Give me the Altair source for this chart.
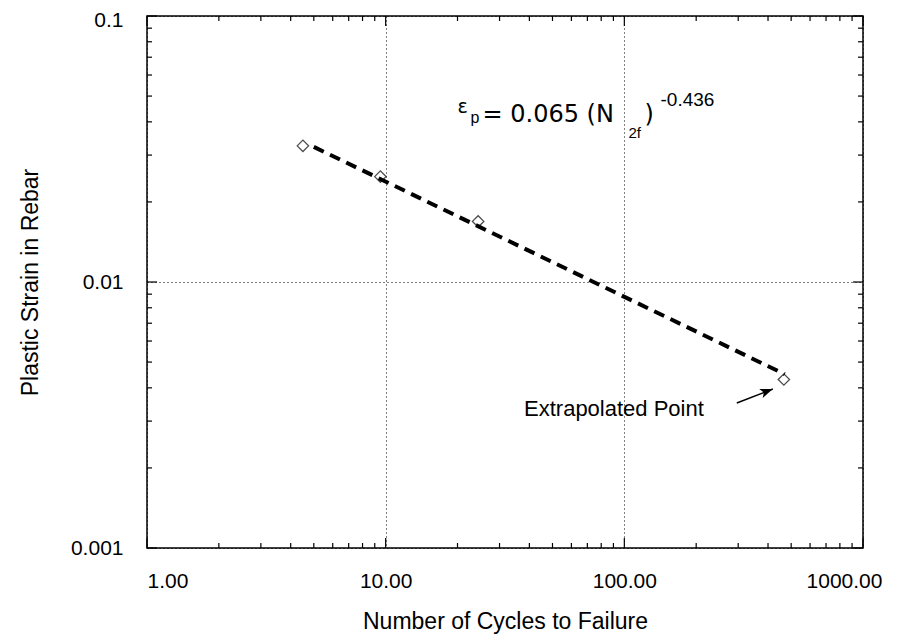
import altair as alt
import pandas as pd

# ---- data ----
cycles = [4.5, 9.5, 24.4, 466]
strain = [0.0325, 0.0249, 0.0169, 0.0043]
fit_cycles = [5.0, 470]
fit_strain = [0.0322, 0.0045]

x_major = [1, 10, 100, 1000]
x_minor = [2, 3, 4, 5, 6, 7, 8, 9, 20, 30, 40, 50, 60, 70, 80, 90,
           200, 300, 400, 500, 600, 700, 800, 900]
y_major = [0.001, 0.01, 0.1]
y_minor = [0.002, 0.003, 0.004, 0.005, 0.006, 0.007, 0.008, 0.009,
           0.02, 0.03, 0.04, 0.05, 0.06, 0.07, 0.08, 0.09]

eq_x = [20]
eq_y = [0.044]
eq_parts = ["ε", "p", "= 0.065 (N", "2f", ")", "-0.436"]

note_x = [38]
note_y = [0.00333]
note_text = ["Extrapolated Point"]

arrow_x = [296]
arrow_y = [0.00351]
arrow_x2 = [419]
arrow_y2 = [0.00396]

# ---- layout ----
W, H = 716, 532
FONT = "Liberation Sans"
EQFONT = "DejaVu Sans"

xs = alt.Scale(type="log", domain=[1, 1000], nice=False)
ys = alt.Scale(type="log", domain=[0.001, 0.1], nice=False)

x_axis = alt.Axis(values=x_major, format=".2f", title="Number of Cycles to Failure",
                  grid=True, gridDash=[1, 3], gridColor="black", gridOpacity=1, gridWidth=1,
                  ticks=False, domain=False, labelFlush=False, labelOverlap=False,
                  labelAlign={"expr": "datum.value == 1 ? 'left' : 'center'"},
                  labelOffset={"expr": "datum.value == 1000 ? -19 : 0"},
                  labelFont=FONT, labelFontSize=21, labelColor="black", labelPadding=22,
                  titleFont=FONT, titleFontSize=23, titleFontWeight="normal",
                  titleColor="black", titlePadding=19)
y_axis = alt.Axis(values=y_major, format="~g", title="Plastic Strain in Rebar",
                  grid=True, gridDash=[1, 3], gridColor="black", gridOpacity=1, gridWidth=1,
                  ticks=False, domain=False, labelFlush=False, labelOverlap=False,
                  labelOffset={"expr": "datum.value == 0.1 ? 4 : 0"},
                  labelFont=FONT, labelFontSize=21, labelColor="black", labelPadding=24,
                  titleFont=FONT, titleFontSize=23, titleFontWeight="normal",
                  titleColor="black", titlePadding=28)


def X(field):
    return alt.X(field, type="quantitative", scale=xs, axis=x_axis)


def Y(field):
    return alt.Y(field, type="quantitative", scale=ys, axis=y_axis)


pts_df = pd.DataFrame({"N": cycles, "e": strain})
fit_df = pd.DataFrame({"N": fit_cycles, "e": fit_strain})

points = alt.Chart(pts_df).mark_point(shape="diamond", filled=False, size=130,
                                      color="black", strokeWidth=1.3).encode(
    x=X("N"), y=Y("e"))

fit = alt.Chart(fit_df).mark_line(color="black", strokeWidth=4,
                                  strokeDash=[11, 7]).encode(x=X("N"), y=Y("e"))


def xticks(vals, length, top):
    df = pd.DataFrame({"N": vals})
    return alt.Chart(df).mark_rule(color="black", strokeWidth=1.2).encode(
        x=X("N"),
        y=alt.value(0 if top else H),
        y2=alt.value(length if top else H - length),
    )


def yticks(vals, length, right):
    df = pd.DataFrame({"e": vals})
    return alt.Chart(df).mark_rule(color="black", strokeWidth=1.2).encode(
        y=Y("e"),
        x=alt.value(W if right else 0),
        x2=alt.value(W - length if right else length),
    )


tick_layers = [
    xticks(x_major, 10, False), xticks(x_minor, 5, False),
    xticks(x_major, 10, True), xticks(x_minor, 5, True),
    yticks(y_major, 10, False), yticks(y_minor, 5, False),
    yticks(y_major, 10, True), yticks(y_minor, 5, True),
]

eq_df = pd.DataFrame({"N": eq_x, "e": eq_y})
eq_style = [  # (part index, dx, dy, size)
    (0, 0, -4, 19),
    (1, 13, 7, 16),
    (2, 25, 4, 24),
    (3, 171, 22, 15),
    (4, 187, 4, 24),
    (5, 203, -11, 19),
]
eq_layers = []
for idx, dx, dy, fs in eq_style:
    eq_layers.append(
        alt.Chart(eq_df).mark_text(text=eq_parts[idx], align="left", baseline="middle",
                                   dx=dx, dy=dy, font=EQFONT if idx in (0, 2, 4) else FONT,
                                   fontSize=fs, color="black").encode(x=X("N"), y=Y("e"))
    )

note_df = pd.DataFrame({"N": note_x, "e": note_y, "t": note_text})
note = alt.Chart(note_df).mark_text(align="left", baseline="middle", font=FONT,
                                    fontSize=22, color="black").encode(
    x=X("N"), y=Y("e"), text="t:N")

arr_df = pd.DataFrame({"N": arrow_x, "e": arrow_y, "N2": arrow_x2, "e2": arrow_y2})
arrow_line = alt.Chart(arr_df).mark_rule(color="black", strokeWidth=1.5).encode(
    x=X("N"), y=Y("e"), x2="N2:Q", y2="e2:Q")
arrow_head = alt.Chart(arr_df).mark_point(
    shape="M0,0L-1,-0.38L-0.75,0L-1,0.38Z", filled=True, size=650,
    color="black", opacity=1, angle=339).encode(x=X("N2"), y=Y("e2"))

chart = alt.layer(
    points, fit, *tick_layers, *eq_layers, note, arrow_line, arrow_head
).properties(
    width=W, height=H,
    autosize=alt.AutoSizeParams(type="none"),
    padding={"left": 139, "top": 8, "right": 30, "bottom": 86},
    background="white",
).configure_view(stroke="black", strokeWidth=1.5)

chart.save("out.html", embed_options={"renderer": "svg", "actions": False})
